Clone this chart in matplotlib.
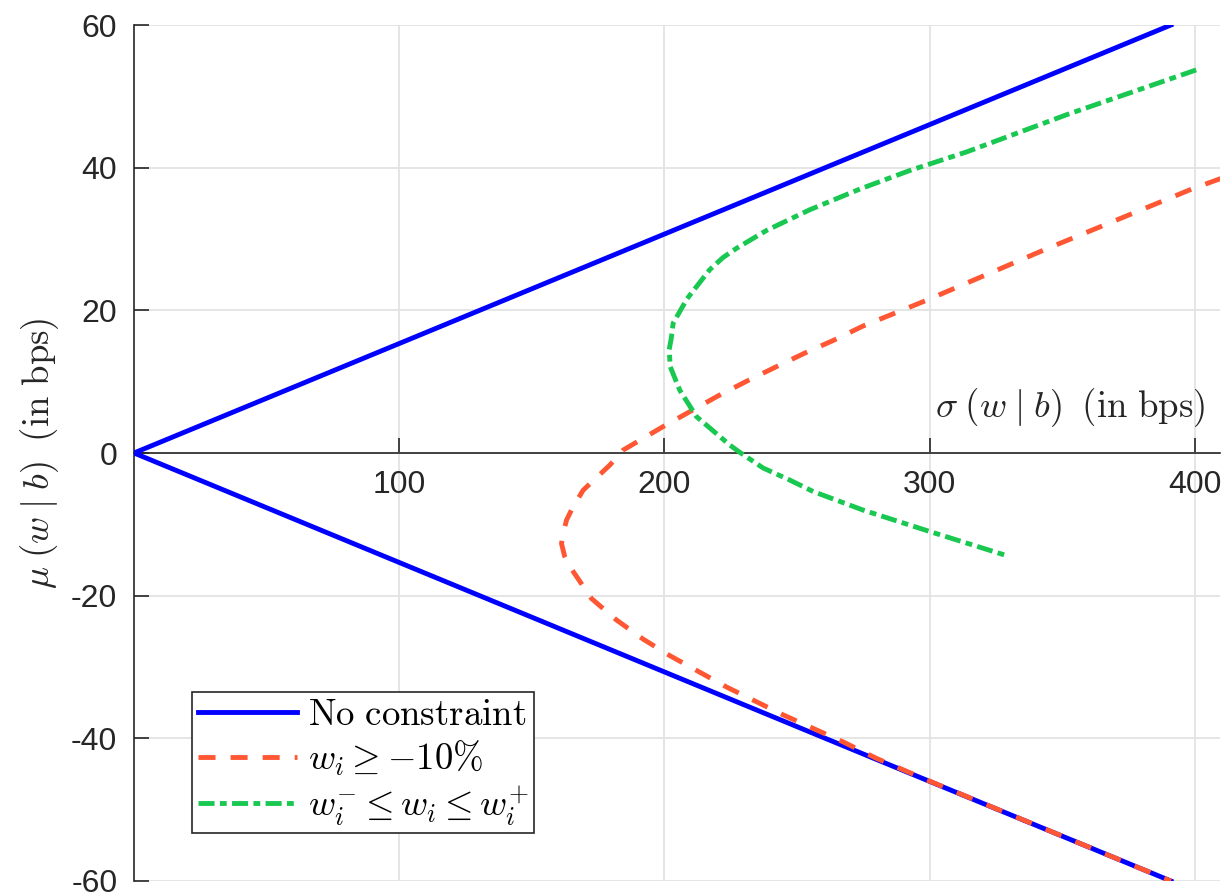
# Tracking-error frontier: mu(w|b) vs sigma(w|b) under weight constraints
import matplotlib
matplotlib.use('Agg')
import matplotlib.pyplot as plt

plt.rcParams['mathtext.fontset'] = 'cm'
plt.rcParams['font.family'] = 'Liberation Sans'
plt.rcParams['axes.unicode_minus'] = False

# no constraint (both branches of the frontier)
sig_free = [391.0, 0.0, 391.0]
mu_free = [60.0, 0.0, -60.0]

# w_i >= -10%
sig_long = [410.0, 399.5, 344.0, 298.8, 274.9, 263.8, 252.9, 242.0, 231.2, 220.2,
            199.5, 184.4, 179.4, 169.4, 165.6, 163.1, 161.8, 161.2, 162.4, 164.3,
            172.5, 181.9, 192.0, 202.0, 223.4, 244.7, 267.4, 279.9, 300.0, 350.0,
            391.0]
mu_long = [38.5, 37.1, 28.6, 21.4, 17.8, 15.8, 14.0, 12.06, 10.1, 8.0,
           3.7, 0.4, -1.7, -5.2, -7.5, -9.4, -11.3, -12.7, -14.5, -15.9,
           -20.4, -23.4, -26.1, -28.4, -32.8, -36.7, -40.5, -42.8, -46.0, -53.7,
           -60.0]

# w_i^- <= w_i <= w_i^+
sig_box = [400.5, 351.5, 313.9, 292.5, 273.7, 254.8, 238.5, 227.2, 222.1, 217.1,
           213.1, 208.5, 203.3, 202.6, 201.8, 202.2, 205.8, 212.1, 224.7, 228.4,
           237.2, 247.3, 256.1, 274.9, 300.0, 328.3]
mu_box = [53.7, 47.4, 42.2, 39.6, 37.0, 34.1, 31.2, 28.7, 27.4, 25.7,
          23.8, 21.6, 18.2, 16.1, 14.5, 12.1, 8.8, 5.1, 1.1, 0.1,
          -2.1, -3.8, -5.4, -8.0, -11.0, -14.3]

xticks = [100, 200, 300, 400]
yticks = [-60, -40, -20, 0, 20, 40, 60]

fig = plt.figure(figsize=(12.27, 8.96), dpi=100)
ax = fig.add_axes([134/1227, 15/896, 1086/1227, 856/896])

lw = 3.5
ax.plot(sig_free, mu_free, color='#0000ff', lw=lw, label=r'$\mathrm{No\ constraint}$', zorder=3)
ax.plot(sig_long, mu_long, color='#ff5733', lw=lw, dashes=(3.5, 3.1),
        label=r'$w_i \geq {-}10\%$', zorder=4)
ax.plot(sig_box, mu_box, color='#19c850', lw=lw, dashes=(3.3, 1.1, 1.4, 1.1),
        label=r'$w_i^{-} \leq w_i \leq w_i^{+}$', zorder=4)

ax.set_xlim(0, 409.5)
ax.set_ylim(-60, 60)
ax.set_xticks(xticks)
ax.set_yticks(yticks)

# MATLAB-like origin axes
ax.spines['bottom'].set_position(('data', 0))
ax.spines['top'].set_visible(False)
ax.spines['right'].set_visible(False)
for s in ['bottom', 'left']:
    ax.spines[s].set_color('#262626')
    ax.spines[s].set_linewidth(1.2)
ax.tick_params(direction='in', length=11, width=1.2, color='#262626',
               labelsize=23, labelcolor='#262626')
ax.tick_params(axis='x', pad=12)
ax.tick_params(axis='y', pad=12)
ax.grid(True, color='#e3e3e3', lw=1.3)
ax.set_axisbelow(True)

ax.set_xlabel(r'$\sigma\;(w\;|\;b)\;\;\mathrm{(in\ bps)}$', fontsize=26.5,
              ha='right', va='bottom', color='#262626')
ax.xaxis.set_label_coords(0.987, 0.528)
ax.set_ylabel(r'$\mu\;(w\;|\;b)\;\;\mathrm{(in\ bps)}$', fontsize=26.5,
              va='center', color='#262626')
ax.yaxis.set_label_coords(-0.087, 0.5)

leg = ax.legend(loc='lower left', bbox_to_anchor=(0.0534, 0.056), borderaxespad=0,
                fontsize=26.5, fancybox=False, framealpha=1, edgecolor='#262626',
                handlelength=2.7, handletextpad=0.3, borderpad=0.15, labelspacing=0.15)
leg.get_frame().set_linewidth(1.2)

fig.savefig('out.png', dpi=100)
